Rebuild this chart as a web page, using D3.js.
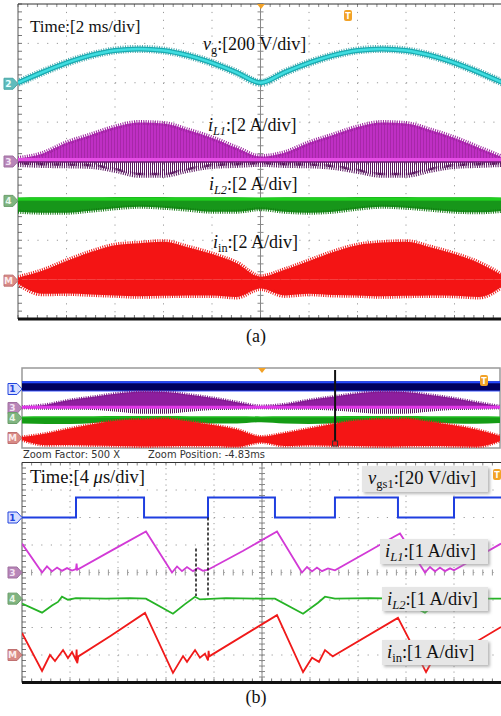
<!DOCTYPE html>
<html>
<head>
<meta charset="utf-8">
<script src="https://cdn.jsdelivr.net/npm/d3@7"></script>
<style>
  body { margin: 0; background: #fff; }
  svg { display: block; }
  .lbl { font-family: "Liberation Serif", "Times New Roman", serif; fill: #111; }
  .ztxt { font-family: "DejaVu Sans Condensed", "Liberation Sans Narrow", "DejaVu Sans", sans-serif; font-size: 11px; fill: #333; }
  .mk { font-family: "DejaVu Sans", sans-serif; font-size: 9px; font-weight: bold; }
</style>
</head>
<body>
<div id="vis"></div>
<script>
// ---- panel (a): 2 ms/div, envelopes at 1 ms steps
const tMs = [-10, -9, -8, -7, -6, -5, -4, -3, -2, -1, 0, 1, 2, 3, 4, 5, 6, 7, 8, 9, 10];
const vgVolts = [0, 53, 101, 139, 164, 172, 164, 139, 101, 53, 0, 53, 101, 139, 164, 172, 164, 139, 101, 53, 0];
const iL1Upper = [0.15, 0.4, 0.95, 1.35, 1.75, 1.98, 1.93, 1.6, 1.2, 0.7, 0.25, 0.45, 0.95, 1.35, 1.75, 1.98, 1.93, 1.6, 1.2, 0.7, 0.2];
const iL1Lower = [-0.15, -0.2, -0.22, -0.25, -0.45, -0.7, -0.7, -0.45, -0.25, -0.2, -0.15, -0.2, -0.22, -0.3, -0.5, -0.7, -0.7, -0.45, -0.25, -0.2, -0.15];
const iL2Upper = [0.16, 0.18, 0.18, 0.18, 0.2, 0.2, 0.2, 0.18, 0.18, 0.18, 0.16, 0.18, 0.18, 0.18, 0.2, 0.2, 0.2, 0.18, 0.18, 0.18, 0.16];
const iL2Lower = [-0.55, -0.6, -0.6, -0.5, -0.38, -0.3, -0.35, -0.45, -0.55, -0.55, -0.42, -0.55, -0.6, -0.55, -0.4, -0.3, -0.35, -0.45, -0.55, -0.58, -0.5];
const iinUpper = [0.1, 0.45, 0.95, 1.4, 1.75, 1.85, 1.93, 1.65, 1.3, 0.85, 0.15, 0.5, 0.95, 1.4, 1.75, 1.88, 1.93, 1.65, 1.3, 0.85, 0.2];
const iinLower = [-0.2, -0.72, -0.7, -0.75, -0.8, -0.85, -0.82, -0.8, -0.8, -0.88, -0.45, -0.8, -0.72, -0.78, -0.8, -0.85, -0.82, -0.8, -0.82, -0.88, -0.3];
const vgsLow = 0, vgsHigh = 14.5;

// ---- panel (b): 4 us/div, [time us, value]
const vgsPts = [[-20, 0], [-15.5, 0], [-15.5, 14.5], [-9.83, 14.5], [-9.83, 0], [-4.5, 0], [-4.5, 14.5], [1.08, 14.5], [1.08, 0],
  [6.08, 0], [6.08, 14.5], [11.33, 14.5], [11.33, 0], [16, 0], [16, 14.5], [20, 14.5]];
const iL1Pts = [[-20, 1.05], [-18.33, 0.0], [-17.92, 0.22], [-17.5, 0.04], [-17.08, 0.18], [-16.67, 0.06], [-16.25, 0.16], [-15.83, 0.07],
  [-15.5, 0.12], [-15.45, 0.32], [-15.4, 0.1], [-12.7, 0.76], [-9.67, 1.49], [-7.5, 0.0], [-7.08, 0.22], [-6.67, 0.05], [-6.25, 0.2],
  [-5.75, 0.05], [-5.33, 0.16], [-4.92, 0.06], [-4.5, 0.1], [-1.6, 0.78], [1.25, 1.49], [3.33, 0.0], [3.75, 0.2], [4.17, 0.04],
  [4.58, 0.18], [5, 0.05], [5.5, 0.15], [6.08, 0.08], [9, 0.8], [11.0, 1.3], [11.5, 1.42], [13.58, 0.0], [14, 0.2], [14.42, 0.04],
  [14.83, 0.18], [15.25, 0.05], [15.67, 0.15], [16, 0.08], [19.92, 1.05]];
const iL2Pts = [[-20, -0.18], [-18.33, -0.51], [-17.5, -0.25], [-17.0, -0.12], [-16.67, 0.07], [-16.17, -0.04], [-15.5, 0.02], [-13, 0.0],
  [-11, 0.02], [-9.67, 0.0], [-7.42, -0.55], [-6.42, -0.2], [-5.58, 0.07], [-5.17, -0.03], [-3, 0.02], [0, 0.0], [1.08, 0.0],
  [3.42, -0.55], [4.67, -0.15], [5.25, 0.07], [6.08, 0.0], [9, 0.02], [11.33, 0.0], [13.58, -0.51], [14.6, -0.15], [15.25, 0.07],
  [16, 0.0], [19.92, 0.0]];
const iinPts = [[-20, 0.8], [-18.33, -0.58], [-17.67, 0.0], [-17.25, -0.22], [-16.58, 0.18], [-16.17, -0.11], [-15.83, 0.11],
  [-15.5, -0.18], [-15.45, 0.2], [-15.4, -0.3], [-15.3, -0.05], [-12.6, 0.7], [-9.75, 1.53], [-7.42, -0.65], [-6.58, -0.04],
  [-6.25, -0.25], [-5.58, 0.18], [-5.17, -0.1], [-4.75, 0.05], [-4.5, -0.2], [-4.45, 0.15], [-4.4, -0.05], [1.25, 1.45],
  [3.42, -0.62], [4.17, -0.1], [4.75, -0.25], [5.25, 0.18], [5.9, -0.05], [6.08, 0.0], [11.33, 1.35], [13.67, -0.62],
  [14.4, -0.05], [14.9, -0.2], [15.4, 0.15], [15.8, -0.05], [16.0, 0.0], [19.92, 1.02]];

const svg = d3.select("#vis").append("svg").attr("width", 501).attr("height", 716);
svg.append("rect").attr("width", 501).attr("height", 716).attr("fill", "#fff");
const defs = svg.append("defs");

function stripes(id, color, w, gap) {
  const p = defs.append("pattern").attr("id", id).attr("width", w + gap).attr("height", 8).attr("patternUnits", "userSpaceOnUse");
  p.append("rect").attr("width", w).attr("height", 8).attr("fill", color);
}
stripes("stMag", "#8e1f8e", 1, 2);
stripes("stMagDark", "#5a1760", 1, 1);
const sh = defs.append("filter").attr("id", "shadow").attr("x", "-10%").attr("y", "-20%").attr("width", "130%").attr("height", "160%");
sh.append("feDropShadow").attr("dx", 2).attr("dy", 2).attr("stdDeviation", 1.5).attr("flood-color", "#888").attr("flood-opacity", 0.6);

function clip(id, x, y, w, h) {
  defs.append("clipPath").attr("id", id).append("rect").attr("x", x).attr("y", y).attr("width", w).attr("height", h);
}
clip("clipA", 18, 4, 485, 315);
clip("clipO", 22, 368, 478, 80);
clip("clipB", 22, 462.5, 480, 220);

function drawGrid(g, gx, gy) {
  const [x0, x1] = gx.range(), [y0, y1] = gy.range();
  const dxm = gx(0.2) - gx(0), dym = gy(0.2) - gy(0);
  const minX = d3.range(0, 10.01, 0.2), minY = d3.range(0, 8.01, 0.2);
  const grey = "#9a9a9a";
  g.selectAll(null).data(d3.range(1, 10)).join("line")
    .attr("x1", gx).attr("x2", gx).attr("y1", y0).attr("y2", y1)
    .attr("stroke", grey).attr("stroke-dasharray", `1.2 ${dym - 1.2}`);
  g.selectAll(null).data(d3.range(1, 8)).join("line")
    .attr("y1", gy).attr("y2", gy).attr("x1", x0).attr("x2", x1)
    .attr("stroke", grey).attr("stroke-dasharray", `1.2 ${dxm - 1.2}`);
  // centre cross with minor ticks
  g.append("line").attr("x1", gx(5)).attr("x2", gx(5)).attr("y1", y0).attr("y2", y1).attr("stroke", "#888");
  g.selectAll(null).data(minY).join("line")
    .attr("x1", gx(5) - 3).attr("x2", gx(5) + 3).attr("y1", gy).attr("y2", gy).attr("stroke", "#888");
  g.selectAll(null).data(minX).join("line")
    .attr("y1", gy(4) - 3).attr("y2", gy(4) + 3).attr("x1", gx).attr("x2", gx).attr("stroke", "#999");
  // borders and edge ticks
  g.selectAll(null).data(minY).join("line")
    .attr("x1", x0).attr("x2", x0 + 4).attr("y1", gy).attr("y2", gy).attr("stroke", "#777");
  g.selectAll(null).data(minX).join("line")
    .attr("y1", y1 - 4).attr("y2", y1).attr("x1", gx).attr("x2", gx).attr("stroke", "#777");
  g.selectAll(null).data(minX).join("line")
    .attr("y1", y0).attr("y2", y0 + 3).attr("x1", gx).attr("x2", gx).attr("stroke", "#888");
  g.append("line").attr("x1", x0).attr("x2", x0).attr("y1", y0).attr("y2", y1).attr("stroke", "#555");
  g.append("line").attr("x1", x0).attr("x2", x1).attr("y1", y0).attr("y2", y0).attr("stroke", "#333");
  g.append("line").attr("x1", x0).attr("x2", x1).attr("y1", y1).attr("y2", y1).attr("stroke", "#111").attr("stroke-width", 3);
}

const chan = (divScale, offset, perDiv) => v => divScale(offset + v / perDiv);
const curve = d3.curveMonotoneX;

function envelope(g, xs, ys, up, lo, fillUp, fillLo, opt) {
  const rows = tMs.map((t, i) => ({ t, up: up[i], lo: lo[i] }));
  const aUp = d3.area().curve(curve).x(d => xs(d.t)).y0(ys(0)).y1(d => ys(d.up));
  const aLo = d3.area().curve(curve).x(d => xs(d.t)).y0(ys(0)).y1(d => ys(d.lo));
  const lUp = d3.line().curve(curve).x(d => xs(d.t)).y(d => ys(d.up));
  const lLo = d3.line().curve(curve).x(d => xs(d.t)).y(d => ys(d.lo));
  g.append("path").datum(rows).attr("d", aLo).attr("fill", fillLo);
  g.append("path").datum(rows).attr("d", aUp).attr("fill", fillUp);
  if (opt.overUp) g.append("path").datum(rows).attr("d", aUp).attr("fill", opt.overUp).attr("opacity", 0.5);
  if (opt.fuzzUp) g.append("path").datum(rows).attr("d", lUp).attr("fill", "none").attr("stroke", opt.fuzzUp)
    .attr("stroke-width", opt.fw).attr("stroke-dasharray", "1 1.3");
  if (opt.fuzzLo) g.append("path").datum(rows).attr("d", lLo).attr("fill", "none").attr("stroke", opt.fuzzLo)
    .attr("stroke-width", opt.fw).attr("stroke-dasharray", "1 1.3");
}

function marker(g, xTip, y, txt, fill, stroke, tcol) {
  g.append("path").attr("d", `M${xTip - 14},${y - 5.5}h9l5,5.5l-5,5.5h-9z`)
    .attr("fill", fill).attr("stroke", stroke).attr("stroke-width", 1);
  g.append("text").attr("class", "mk").attr("x", xTip - 9.5).attr("y", y + 3.3).attr("text-anchor", "middle")
    .attr("fill", tcol).text(txt);
}
function trigT(g, x, y) {
  g.append("rect").attr("x", x).attr("y", y).attr("width", 8).attr("height", 11).attr("rx", 2).attr("fill", "#f2a227");
  g.append("text").attr("x", x + 4).attr("y", y + 8.5).attr("text-anchor", "middle").attr("fill", "#fff")
    .attr("font-family", "DejaVu Sans").attr("font-size", 8).attr("font-weight", "bold").text("T");
}
function trigTri(g, x, y) {
  g.append("path").attr("d", `M${x - 4},${y}h8l-4,5z`).attr("fill", "#f2a227");
}

// label: italic symbol + subscript + rest
function label(g, x, y, size, sym, sub, subItalic, rest) {
  const t = g.append("text").attr("class", "lbl").attr("x", x).attr("y", y).attr("font-size", size);
  if (sym) t.append("tspan").attr("font-style", "italic").text(sym);
  if (sub) t.append("tspan").attr("font-size", size * 0.68).attr("dy", size * 0.22)
    .attr("font-style", subItalic ? "italic" : "normal").text(sub);
  t.append("tspan").attr("dy", sub ? -size * 0.22 : 0).text(rest);
  return t;
}
function boxLabel(g, x0, y0, x1, y1) {
  g.append("rect").attr("x", x0).attr("y", y0).attr("width", x1 - x0).attr("height", y1 - y0)
    .attr("fill", "#e6e6e6").attr("filter", "url(#shadow)");
}

// ================= panel (a) =================
const xA = d3.scaleLinear().domain([-10, 10]).range([18, 503]);
const divA = d3.scaleLinear().domain([-4, 4]).range([319, 4]);
const gA = svg.append("g");
drawGrid(gA.append("g"), d3.scaleLinear().domain([0, 10]).range([18, 503]), d3.scaleLinear().domain([0, 8]).range([4, 319]));
const trA = gA.append("g").attr("clip-path", "url(#clipA)");

const yVg = chan(divA, 2, 200);
const vgLine = d3.line().curve(curve).x((d, i) => xA(tMs[i])).y(d => yVg(d));
trA.append("path").datum(vgVolts).attr("d", vgLine).attr("fill", "none").attr("stroke", "#158f95")
  .attr("stroke-width", 8).attr("stroke-dasharray", "1 1.4").attr("opacity", 0.75);
trA.append("path").datum(vgVolts).attr("d", vgLine).attr("fill", "none").attr("stroke", "#1aaab0").attr("stroke-width", 5);
trA.append("path").datum(vgVolts).attr("d", vgLine).attr("fill", "none").attr("stroke", "#3fdde0").attr("stroke-width", 2.5);

const yL1 = chan(divA, 0, 2);
envelope(trA, xA, yL1, iL1Upper, iL1Lower, "#bf2fc4", "url(#stMagDark)",
  { overUp: "url(#stMag)", fuzzUp: "#9c239f", fuzzLo: "#5a1760", fw: 5 });
trA.append("line").attr("x1", 18).attr("x2", 503).attr("y1", yL1(0.08)).attr("y2", yL1(0.08))
  .attr("stroke", "#e44de4").attr("stroke-width", 4);
trA.append("line").attr("x1", 18).attr("x2", 503).attr("y1", yL1(-0.03)).attr("y2", yL1(-0.03))
  .attr("stroke", "#6e1a72").attr("stroke-width", 1.5);

const yL2 = chan(divA, -1, 2);
envelope(trA, xA, yL2, iL2Upper, iL2Lower, "#1ca81c", "#17961a",
  { fuzzLo: "#137a13", fw: 4 });
trA.append("line").attr("x1", 18).attr("x2", 503).attr("y1", yL2(0.1)).attr("y2", yL2(0.1))
  .attr("stroke", "#1fd01f").attr("stroke-width", 3);

const yIn = chan(divA, -3, 2);
envelope(trA, xA, yIn, iinUpper, iinLower, "#f41414", "#f41414",
  { fuzzUp: "#ee1818", fuzzLo: "#ee1818", fw: 5 });

marker(gA, 18, yVg(0) + 1, "2", "#5fbcbc", "#4aa6a6", "#e8ffff");
marker(gA, 18, yL1(0), "3", "#b886b8", "#a070a0", "#f4e4f4");
marker(gA, 18, yL2(0), "4", "#80b480", "#6a9e6a", "#eaf6ea");
marker(gA, 18, yIn(0) + 1, "M", "#d88a86", "#c07070", "#fbecec");
trigTri(gA, 261, 4);
trigT(gA, 344, 10);

label(gA, 30, 32, 17, null, null, false, "Time:[2 ms/div]");
label(gA, 203, 50, 18, "v", "g", false, ":[200 V/div]");
label(gA, 208, 131, 18, "i", "L1", true, ":[2 A/div]");
label(gA, 209, 190, 18, "i", "L2", true, ":[2 A/div]");
label(gA, 213, 248, 18, "i", "in", false, ":[2 A/div]");
gA.append("text").attr("class", "lbl").attr("x", 256).attr("y", 342).attr("font-size", 18)
  .attr("text-anchor", "middle").text("(a)");

// ================= panel (b) overview =================
const xO = d3.scaleLinear().domain([-10, 10]).range([22, 500]);
const divO = d3.scaleLinear().domain([-4, 4]).range([448, 368]);
const gO = svg.append("g");
gO.append("rect").attr("x", 22).attr("y", 368).attr("width", 478).attr("height", 80)
  .attr("fill", "#fff").attr("stroke", "#999").attr("stroke-width", 1.5);
const trO = gO.append("g").attr("clip-path", "url(#clipO)");
const yOv = chan(divO, 1.7, 15);
trO.append("rect").attr("x", xO(-10)).attr("width", xO(10) - xO(-10)).attr("y", yOv(vgsHigh))
  .attr("height", yOv(vgsLow) - yOv(vgsHigh)).attr("fill", "#00005e");
trO.append("line").attr("x1", xO(-10)).attr("x2", xO(10)).attr("y1", yOv(vgsHigh) + 1).attr("y2", yOv(vgsHigh) + 1)
  .attr("stroke", "#2448ff").attr("stroke-width", 2);
trO.append("line").attr("x1", xO(-10)).attr("x2", xO(10)).attr("y1", yOv(vgsLow)).attr("y2", yOv(vgsLow))
  .attr("stroke", "#3a56ff").attr("stroke-width", 1);
const yO1 = chan(divO, 0, 1.2);
envelope(trO, xO, yO1, iL1Upper, iL1Lower, "#8d1e9d", "url(#stMagDark)",
  { fuzzUp: "#7a1a88", fw: 3 });
trO.append("line").attr("x1", 22).attr("x2", 500).attr("y1", yO1(0.1)).attr("y2", yO1(0.1))
  .attr("stroke", "#e038e8").attr("stroke-width", 3);
const yO2 = chan(divO, -1, 1);
envelope(trO, xO, yO2, iL2Upper, iL2Lower, "#1cb81c", "#159c15", { fw: 3 });
const yO3 = chan(divO, -3, 1);
envelope(trO, xO, yO3, iinUpper, iinLower, "#f51515", "#f51515",
  { fuzzUp: "#ee1a1a", fuzzLo: "#ee1a1a", fw: 3 });
gO.append("line").attr("x1", xO(3.1)).attr("x2", xO(3.1)).attr("y1", 370).attr("y2", 441)
  .attr("stroke", "#111").attr("stroke-width", 2);
gO.append("rect").attr("x", xO(3.1) - 2.5).attr("y", 441).attr("width", 5).attr("height", 5)
  .attr("fill", "none").attr("stroke", "#333");
marker(gO, 22, yOv(vgsLow) - 2, "1", "#d8deff", "#2244dd", "#2244dd");
marker(gO, 22, yO1(0), "3", "#b886b8", "#a070a0", "#f4e4f4");
marker(gO, 22, yO2(0), "4", "#80b480", "#6a9e6a", "#eaf6ea");
marker(gO, 22, yO3(0), "M", "#d88a86", "#c07070", "#fbecec");
trigTri(gO, 262, 368);
trigT(gO, 480, 375);
gO.append("text").attr("class", "ztxt").attr("x", 23).attr("y", 458).text("Zoom Factor: 500 X");
gO.append("text").attr("class", "ztxt").attr("x", 148).attr("y", 458).text("Zoom Position:  -4.83ms");

// ================= panel (b) zoomed =================
const xB = d3.scaleLinear().domain([-20, 20]).range([22, 502]);
const divB = d3.scaleLinear().domain([-4, 4]).range([682.5, 462.5]);
const gB = svg.append("g");
drawGrid(gB.append("g"), d3.scaleLinear().domain([0, 10]).range([22, 502]), d3.scaleLinear().domain([0, 8]).range([462.5, 682.5]));
const trB = gB.append("g").attr("clip-path", "url(#clipB)");
const lineB = ys => d3.line().x(d => xB(d[0])).y(d => ys(d[1]));

const yBg = chan(divB, 2, 20), yB1 = chan(divB, 0, 1), yB2 = chan(divB, -0.95, 1), yB3 = chan(divB, -3, 1);
trB.append("path").datum(vgsPts).attr("d", lineB(yBg)).attr("fill", "none").attr("stroke", "#1f3fe0").attr("stroke-width", 2);
trB.append("path").datum(iL1Pts).attr("d", lineB(yB1)).attr("fill", "none").attr("stroke", "#d23ad6").attr("stroke-width", 1.8);
trB.append("path").datum(iL2Pts).attr("d", lineB(yB2)).attr("fill", "none").attr("stroke", "#26b326").attr("stroke-width", 1.8);
trB.append("path").datum(iinPts).attr("d", lineB(yB3)).attr("fill", "none").attr("stroke", "#f01a1a").attr("stroke-width", 1.8);

// dead-time cursors
trB.append("line").attr("x1", xB(-4.5)).attr("x2", xB(-4.5)).attr("y1", yBg(0)).attr("y2", yB2(0.1))
  .attr("stroke", "#111").attr("stroke-width", 1.5).attr("stroke-dasharray", "3 2");
trB.append("line").attr("x1", xB(-5.5)).attr("x2", xB(-5.5)).attr("y1", yB1(0.87)).attr("y2", yB2(0.1))
  .attr("stroke", "#111").attr("stroke-width", 1.5).attr("stroke-dasharray", "3 2");

marker(gB, 22, yBg(0), "1", "#d8deff", "#2244dd", "#2244dd");
marker(gB, 22, yB1(0), "3", "#b886b8", "#a070a0", "#f4e4f4");
marker(gB, 22, yB2(0), "4", "#80b480", "#6a9e6a", "#eaf6ea");
marker(gB, 22, yB3(0), "M", "#d88a86", "#c07070", "#fbecec");
trigT(gB, 493, 469);

const tB = gB.append("text").attr("class", "lbl").attr("x", 30).attr("y", 483).attr("font-size", 18.5);
tB.append("tspan").text("Time:[4 ");
tB.append("tspan").attr("font-style", "italic").text("\u03bc");
tB.append("tspan").text("s/div]");

boxLabel(gB, 362, 466, 488, 492);
label(gB, 368, 484, 18.5, "v", "gs1", false, ":[20 V/div]");
boxLabel(gB, 380, 539, 488, 564);
label(gB, 385, 557, 18.5, "i", "L1", true, ":[1 A/div]");
boxLabel(gB, 382, 587, 488, 611);
label(gB, 387, 605, 18.5, "i", "L2", true, ":[1 A/div]");
boxLabel(gB, 382, 640, 488, 665);
label(gB, 387, 658, 18.5, "i", "in", false, ":[1 A/div]");
gB.append("text").attr("class", "lbl").attr("x", 256).attr("y", 703).attr("font-size", 18)
  .attr("text-anchor", "middle").text("(b)");
</script>
</body>
</html>
